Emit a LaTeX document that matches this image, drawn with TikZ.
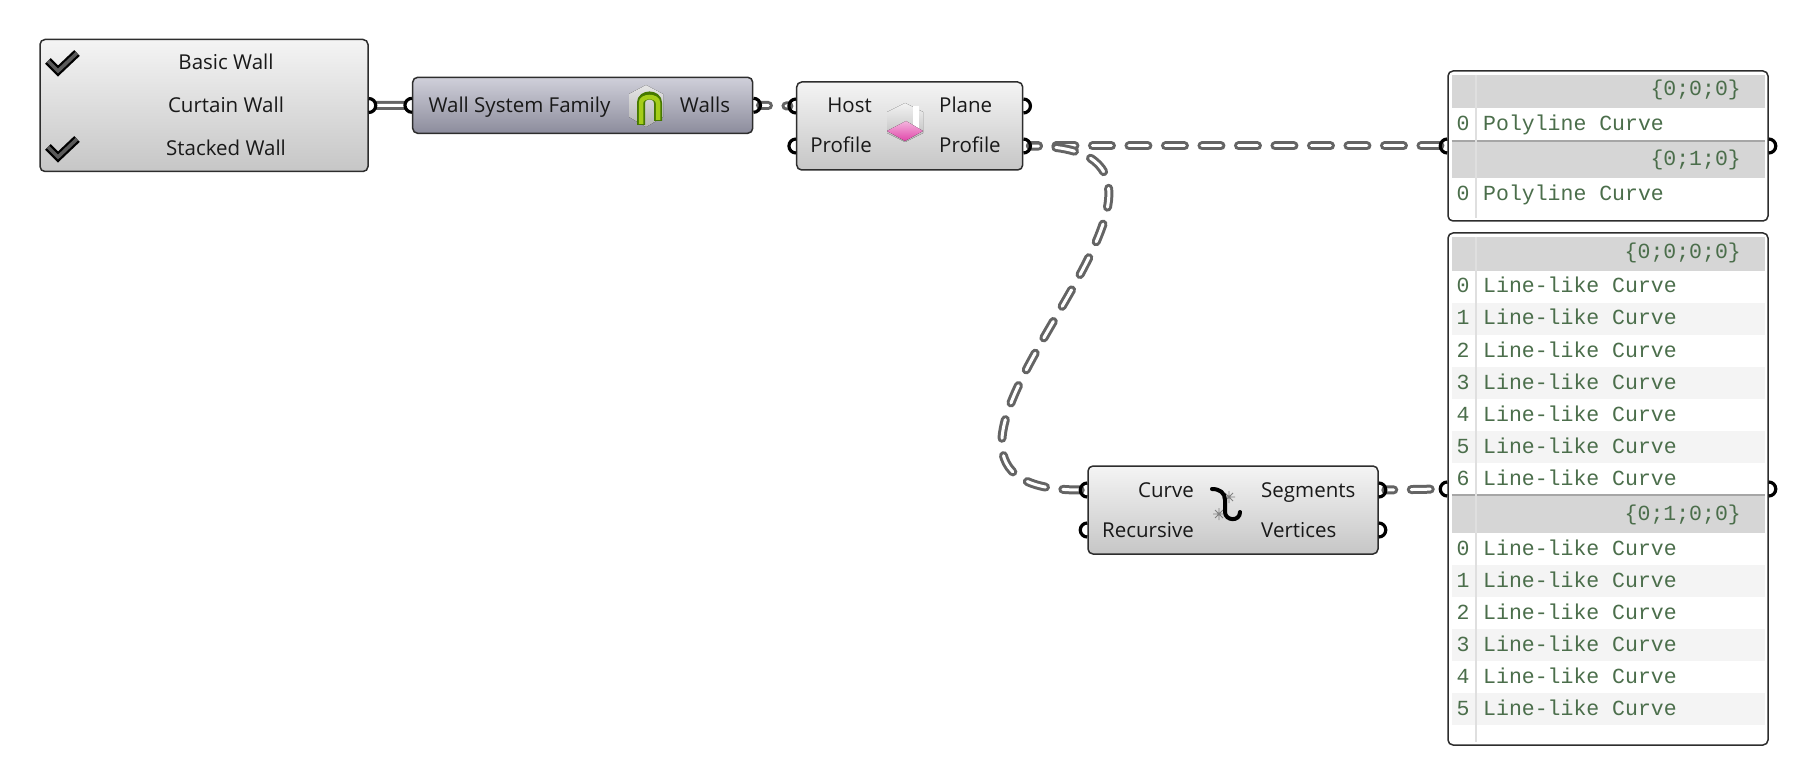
\documentclass[tikz,border=0pt]{standalone}
\usepackage{fontspec}
\setmainfont{Open Sans}
\setmonofont{Liberation Mono}
\definecolor{ghedge}{RGB}{45,45,45}
\definecolor{ghtop}{RGB}{244,244,244}
\definecolor{ghmid}{RGB}{222,222,222}
\definecolor{ghbot}{RGB}{198,198,198}
\definecolor{famtop}{RGB}{208,208,218}
\definecolor{fammid}{RGB}{170,170,185}
\definecolor{fambot}{RGB}{140,140,156}
\definecolor{ghhead}{RGB}{214,214,214}
\definecolor{ghstripe}{RGB}{244,244,244}
\definecolor{ghgreen}{RGB}{75,110,75}
\definecolor{ghtext}{RGB}{25,25,25}
\definecolor{wiregrey}{RGB}{100,100,100}
\definecolor{leafdark}{RGB}{70,120,0}
\definecolor{leaf}{RGB}{165,205,25}
\definecolor{pinkface}{RGB}{225,70,170}
\begin{document}
\begin{tikzpicture}[x=1pt,y=-1pt,font=\fontsize{20.5}{24}\selectfont,
  comp/.style={draw=ghedge,line width=1.5pt,rounded corners=5pt,inner sep=0pt,
    top color=ghtop,middle color=ghmid,bottom color=ghbot},
  famcomp/.style={comp,top color=famtop,middle color=fammid,bottom color=fambot},
  panelbox/.style={draw=ghedge,line width=1.5pt,rounded corners=5pt,fill=white,inner sep=0pt},
  lbl/.style={inner sep=0pt,text=ghtext},
  ptxt/.style={inner sep=0pt,text=ghgreen,font=\ttfamily\fontsize{21.5}{24}\selectfont},
  grip/.style={draw=black,line width=3.2pt},
  wire/.style={draw=wiregrey,line width=3pt,double=white,double distance=3pt},
  treewire/.style={draw=white,line width=3pt,line cap=round,dash pattern=on 19pt off 17.5pt,dash phase=11pt,
    preaction={draw=wiregrey,line width=9pt,line cap=round,dash pattern=on 19pt off 17.5pt,dash phase=11pt}},
  tick/.style={line width=8pt,draw=black,line join=miter,
    postaction={draw={rgb,255:red,90;green,90;blue,90},line width=3.5pt}}]
\useasboundingbox (0,0) rectangle (1803,783);

% components
\node[comp,minimum width=328pt,minimum height=132pt] (vlist) at (204,105.5) {};
\node[famcomp,minimum width=340pt,minimum height=56pt] (wsf) at (582.7,105.3) {};
\node[comp,minimum width=226pt,minimum height=88pt] (prof) at (909.7,126) {};
\node[comp,minimum width=290pt,minimum height=88pt] (expl) at (1233,510) {};
\node[panelbox,minimum width=320pt,minimum height=150pt] (pan1) at (1608,146) {};
\node[panelbox,minimum width=320pt,minimum height=512pt] (pan2) at (1608,489) {};

% value list
\draw[tick] (48,61) -- (58,71) -- (77,53);
\draw[tick] (48,147) -- (58,157) -- (77,139);
\node[lbl,anchor=base] (vl-basic) at (226,69.3) {Basic Wall};
\node[lbl,anchor=base] (vl-curtain) at (226,113) {Curtain Wall};
\node[lbl,anchor=base] (vl-stacked) at (226,156) {Stacked Wall};

% wall system family
\node[lbl,anchor=base] (wsf-name) at (519.5,113) {Wall System Family};
\node[lbl,anchor=base] (wsf-walls) at (705,113) {Walls};
\fill[top color=gray!20,bottom color=gray!60] (646,85) -- (663,94) -- (663,117) -- (646,127) -- (629,117) -- (629,94) -- cycle;
\draw[leafdark,line width=8pt] (641,125) -- (641,103) .. controls (641,93) and (658,93) .. (658,103) -- (658,121);
\draw[leaf,line width=4.5pt] (641,124) -- (641,103) .. controls (641,95) and (658,95) .. (658,103) -- (658,120);

% host / profile
\node[lbl,anchor=base east] (prof-host) at (872,113) {Host};
\node[lbl,anchor=base east] (prof-profin) at (872,153) {Profile};
\node[lbl,anchor=base west] (prof-plane) at (939,113) {Plane};
\node[lbl,anchor=base west] (prof-profout) at (939,153) {Profile};
\fill[top color=gray!10,bottom color=gray!55] (905,103) -- (923,112) -- (923,133) -- (905,142) -- (887,133) -- (887,112) -- cycle;
\fill[white] (913,106) rectangle (919,130);
\fill[top color=pinkface!40,bottom color=pinkface] (887,131) -- (906,121) -- (923,131) -- (905,141) -- cycle;

% explode
\node[lbl,anchor=base east] (expl-curve) at (1194,497) {Curve};
\node[lbl,anchor=base east] (expl-rec) at (1194,537) {Recursive};
\node[lbl,anchor=base west] (expl-seg) at (1261,497) {Segments};
\node[lbl,anchor=base west] (expl-vert) at (1261,537) {Vertices};
\draw[gray,line width=0.8pt] (1223,497) -- (1235,497) (1229,491) -- (1229,503) (1225,493) -- (1233,501) (1225,501) -- (1233,493);
\draw[gray,line width=0.8pt] (1213,514) -- (1225,514) (1219,508) -- (1219,520) (1215,510) -- (1223,518) (1215,518) -- (1223,510);
\draw[black,line width=4pt,line cap=round] (1212,489) .. controls (1220,489) and (1225,493) .. (1225,500) -- (1225,512) .. controls (1225,521) and (1240,522) .. (1240,512);

% panel 1
\fill[ghhead] (1451.5,75) rectangle (1765,108);
\fill[ghhead] (1451.5,142) rectangle (1765,178);
\draw[gray!70,line width=2pt] (1451.5,141) -- (1765,141);
\draw[gray!25,line width=1.5pt] (1476,75) -- (1476,218);
\node[ptxt,anchor=base east] (p1-h0) at (1741,96) {\{0;0;0\}};
\node[ptxt,anchor=base] (p1-i0) at (1463,130.7) {0};
\node[ptxt,anchor=base west] (p1-r0) at (1483,130.7) {Polyline Curve};
\node[ptxt,anchor=base east] (p1-h1) at (1741,166) {\{0;1;0\}};
\node[ptxt,anchor=base] (p1-i1) at (1463,200.7) {0};
\node[ptxt,anchor=base west] (p1-r1) at (1483,200.7) {Polyline Curve};

% panel 2
\fill[ghhead] (1451.5,236.7) rectangle (1765,271);
\fill[ghhead] (1451.5,495) rectangle (1765,533);
\foreach \r in {1,3,5} {
  \fill[ghstripe] (1451.5,{271+32*\r}) rectangle (1765,{303+32*\r});
  \fill[ghstripe] (1451.5,{533+32*\r}) rectangle (1765,{565+32*\r});
}
\draw[gray!70,line width=2pt] (1451.5,494.5) -- (1765,494.5);
\draw[gray!25,line width=1.5pt] (1476,236.7) -- (1476,742);
\node[ptxt,anchor=base east] (p2-h0) at (1741,258.3) {\{0;0;0;0\}};
\node[ptxt,anchor=base east] (p2-h1) at (1741,520) {\{0;1;0;0\}};
\foreach \r in {0,...,6} {
  \node[ptxt,anchor=base] (p2-a\r) at (1463,{293+32*\r}) {\r};
  \node[ptxt,anchor=base west] (p2-b\r) at (1483,{293+32*\r}) {Line-like Curve};
}
\foreach \r in {0,...,5} {
  \node[ptxt,anchor=base] (p2-c\r) at (1463,{555+32*\r}) {\r};
  \node[ptxt,anchor=base west] (p2-d\r) at (1483,{555+32*\r}) {Line-like Curve};
}

% ports
\coordinate (vl-o) at (vlist.east);
\coordinate (ws-i) at (wsf.west);
\coordinate (ws-o) at (wsf.east);
\coordinate (pr-host) at ([yshift=20pt]prof.west);
\coordinate (pr-pin) at ([yshift=-20pt]prof.west);
\coordinate (pr-plane) at ([yshift=20pt]prof.east);
\coordinate (pr-pout) at ([yshift=-20pt]prof.east);
\coordinate (ex-crv) at ([yshift=20pt]expl.west);
\coordinate (ex-rec) at ([yshift=-20pt]expl.west);
\coordinate (ex-seg) at ([yshift=20pt]expl.east);
\coordinate (ex-vrt) at ([yshift=-20pt]expl.east);
\coordinate (p1-in) at (pan1.west);
\coordinate (p1-out) at (pan1.east);
\coordinate (p2-in) at (pan2.west);
\coordinate (p2-out) at (pan2.east);

% wires
\draw[wire] ([xshift=7pt]vl-o) -- ([xshift=-7pt]ws-i);
\draw[treewire] ([xshift=7pt]ws-o) -- ([xshift=-7pt]pr-host);
\draw[treewire] ([xshift=7pt]pr-pout) -- ([xshift=-7pt]p1-in);
\draw[treewire] ([xshift=7pt]pr-pout) .. controls +(250,0) and +(-250,0) .. ([xshift=-7pt]ex-crv);
\draw[treewire] ([xshift=7pt]ex-seg) -- ([xshift=-7pt]p2-in);

% grips
\foreach \p in {ws-i,pr-host,pr-pin,ex-crv,ex-rec,p1-in,p2-in}
  \draw[grip] ([yshift=7pt]\p) arc[start angle=90,end angle=270,radius=7pt];
\foreach \p in {vl-o,ws-o,pr-plane,pr-pout,ex-seg,ex-vrt,p1-out,p2-out}
  \draw[grip] ([yshift=7pt]\p) arc[start angle=90,end angle=-90,radius=7pt];
\end{tikzpicture}
\end{document}
